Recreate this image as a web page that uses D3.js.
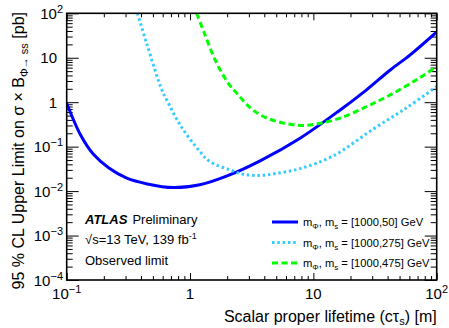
<!DOCTYPE html>
<meta charset="utf-8">
<style>
body { margin: 0; background: #fff; }
svg text { font-family: "Liberation Sans", Arial, sans-serif; fill: #000; }
.frame { fill: none; stroke: #000; stroke-width: 1.6; }
.ticks line { stroke: #000; stroke-width: 1; }
.ticks path { display: none; }
</style>
<svg id="svg" width="449" height="328"></svg>
<script src="https://d3js.org/d3.v7.min.js"></script>
<script>

// values (ctau in m, limit in pb)
var ctau50  = [0.1, 0.13, 0.164, 0.22, 0.307, 0.45, 0.73, 1.2, 2.0, 3.7, 7.8, 16.5, 27, 42, 61, 100];
var lim50   = [0.95, 0.18, 0.068, 0.033, 0.0195, 0.0145, 0.012, 0.0139, 0.022, 0.048, 0.155, 0.67, 1.9, 5.3, 11.6, 38];

var ctau275 = [0.375, 0.445, 0.59, 0.647, 0.83, 1.2, 1.45, 2.11, 2.7, 3.7, 5, 7.8, 14.5, 30.7, 57, 100];
var lim275  = [100, 21, 1.9, 1.13, 0.31, 0.078, 0.046, 0.030, 0.024, 0.0225, 0.025, 0.032, 0.062, 0.25, 0.75, 2.24];

var ctau475 = [1.13, 1.3, 1.6, 2.0, 2.39, 3.0, 3.7, 5.05, 7.8, 11, 16.5, 27, 42, 70, 100];
var lim475  = [100, 37, 8.9, 2.9, 1.6, 0.8, 0.52, 0.37, 0.30, 0.33, 0.44, 0.8, 1.46, 3.3, 6.3];

var xMajor = [0.1, 1, 10, 100];
var xLabels = [["10", "\u22121"], ["1", ""], ["10", ""], ["10", "2"]];
var yMajor = [1e-4, 1e-3, 1e-2, 1e-1, 1, 10, 100];
var yLabels = [["10", "\u22124"], ["10", "\u22123"], ["10", "\u22122"], ["10", "\u22121"], ["1", ""], ["10", ""], ["10", "2"]];

var masses = ["50", "275", "475"];
var colors = ["#0000ff", "#33ccff", "#00ff00"];
var dashes = [null, "2.5,2.8", "6,3.5"];

var svg = d3.select("svg");
var L = 66.7, R = 436.7, T = 13.3, B = 280;

var x = d3.scaleLog().domain([0.1, 100]).range([L, R]);
var y = d3.scaleLog().domain([1e-4, 100]).range([B, T]);

function minors(dom) {
  var out = [];
  for (var e = Math.log10(dom[0]); e < Math.log10(dom[1]); e++)
    for (var k = 2; k <= 9; k++) out.push(k * Math.pow(10, e));
  return out;
}

// ticks on all four sides, pointing inwards
function tickSet(axisFn, scale, vals, size, tr) {
  svg.append("g").attr("class", "ticks").attr("transform", tr)
    .call(axisFn(scale).tickValues(vals).tickSize(size).tickFormat(""));
}
tickSet(d3.axisBottom, x, xMajor, -7, "translate(0," + B + ")");
tickSet(d3.axisBottom, x, minors(x.domain()), -4, "translate(0," + B + ")");
tickSet(d3.axisTop, x, xMajor, -7, "translate(0," + T + ")");
tickSet(d3.axisTop, x, minors(x.domain()), -4, "translate(0," + T + ")");
tickSet(d3.axisLeft, y, yMajor, -12, "translate(" + L + ",0)");
tickSet(d3.axisLeft, y, minors(y.domain()), -6, "translate(" + L + ",0)");
tickSet(d3.axisRight, y, yMajor, -12, "translate(" + R + ",0)");
tickSet(d3.axisRight, y, minors(y.domain()), -6, "translate(" + R + ",0)");

// tick labels
function powLabel(g, lab) {
  g.append("tspan").text(lab[0]);
  if (lab[1]) g.append("tspan").attr("dy", -6).attr("font-size", 11).text(lab[1]);
}
xLabels.forEach(function(lab, i) {
  var t = svg.append("text").attr("x", x(xMajor[i])).attr("y", 299)
    .attr("text-anchor", "middle").attr("font-size", 15);
  powLabel(t, lab);
});
yLabels.forEach(function(lab, i) {
  var t = svg.append("text").attr("x", lab[1] ? 63 : 57).attr("y", y(yMajor[i]) + 5.5)
    .attr("text-anchor", "end").attr("font-size", 15);
  powLabel(t, lab);
});

// curves
svg.append("clipPath").attr("id", "clip").append("rect")
  .attr("x", L).attr("y", T).attr("width", R - L).attr("height", B - T);

var line = d3.line()
  .x(function(d) { return x(d[0]); })
  .y(function(d) { return y(d[1]); })
  .curve(d3.curveCatmullRom.alpha(0.5));

[[ctau50, lim50], [ctau275, lim275], [ctau475, lim475]].forEach(function(s, i) {
  svg.append("path")
    .datum(d3.zip(s[0], s[1]))
    .attr("clip-path", "url(#clip)")
    .attr("fill", "none")
    .attr("stroke", colors[i])
    .attr("stroke-width", 3)
    .attr("stroke-dasharray", dashes[i])
    .attr("d", line);
});

svg.append("rect").attr("class", "frame")
  .attr("x", L).attr("y", T).attr("width", R - L).attr("height", B - T);

// axis titles
var xt = svg.append("text").attr("x", R).attr("y", 322).attr("text-anchor", "end").attr("font-size", 16);
xt.append("tspan").text("Scalar proper lifetime (c\u03C4");
xt.append("tspan").attr("dy", 3).attr("font-size", 11).text("s");
xt.append("tspan").attr("dy", -3).text(") [m]");

var yt = svg.append("text").attr("transform", "translate(24,12) rotate(-90)")
  .attr("text-anchor", "end").attr("font-size", 16);
yt.append("tspan").text("95 % CL Upper Limit on \u03C3 \u00D7 B");
yt.append("tspan").attr("dy", 4).attr("font-size", 11).text("\u03A6\u2192 ss");
yt.append("tspan").attr("dy", -4).text(" [pb]");

// ATLAS label
var at = svg.append("text").attr("x", 85).attr("y", 224).attr("font-size", 13);
at.append("tspan").attr("font-weight", "bold").attr("font-style", "italic").text("ATLAS");
at.append("tspan").attr("dx", 5).text("Preliminary");
var st = svg.append("text").attr("x", 85).attr("y", 244).attr("font-size", 13);
st.append("tspan").text("\u221As=13 TeV, 139 fb");
st.append("tspan").attr("dy", -5).attr("font-size", 9).text("-1");
svg.append("text").attr("x", 85).attr("y", 265).attr("font-size", 13).text("Observed limit");

// legend
masses.forEach(function(m, i) {
  var ly = 222 + i * 20.5;
  svg.append("line").attr("x1", 272).attr("x2", 298).attr("y1", ly).attr("y2", ly)
    .attr("stroke", colors[i]).attr("stroke-width", 3).attr("stroke-dasharray", dashes[i]);
  var t = svg.append("text").attr("x", 303).attr("y", ly + 4).attr("font-size", 11.2);
  t.append("tspan").text("m");
  t.append("tspan").attr("dy", 3).attr("font-size", 8).text("\u03A6");
  t.append("tspan").attr("dy", -3).text(", m");
  t.append("tspan").attr("dy", 3).attr("font-size", 8).text("s");
  t.append("tspan").attr("dy", -3).text(" = [1000," + m + "] GeV");
});

</script>
